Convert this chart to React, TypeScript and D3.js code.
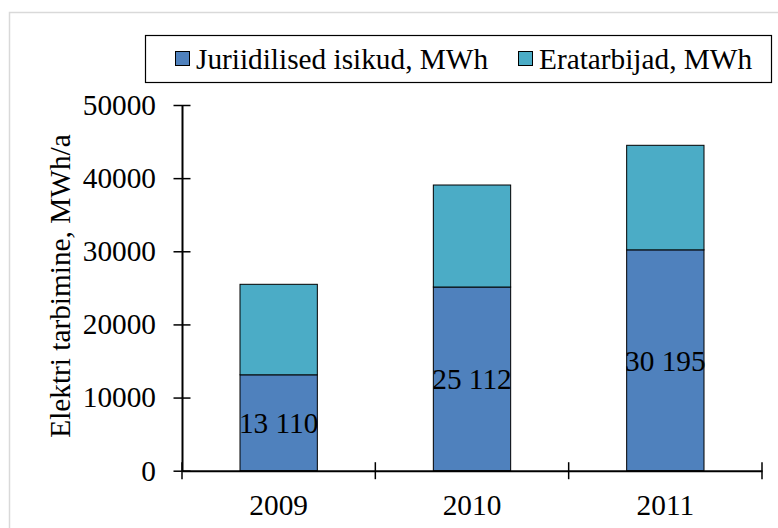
import React, { useRef, useEffect } from 'react';
import * as d3 from 'd3';

// andmed graafikult loetud
const years = ['2009', '2010', '2011'];
const juriidilised = [13110, 25112, 30195];
const eratarbijad = [12375, 13948, 14295];
const yTicks = [0, 10000, 20000, 30000, 40000, 50000];
const seriesNames = ['Juriidilised isikud, MWh', 'Eratarbijad, MWh'];
const seriesColors = ['#4f81bd', '#4bacc6'];
const valueLabels = ['13 110', '25 112', '30 195'];

const WIDTH = 778;
const HEIGHT = 528;
const FONT = 'Liberation Serif, Times New Roman, DejaVu Serif, serif';
const FONT_SIZE = 29.3;

const App: React.FC = () => {
  const svgRef = useRef<SVGSVGElement | null>(null);

  useEffect(() => {
    const svg = d3.select(svgRef.current);
    svg.selectAll('*').remove();

    // välimine raam
    svg.append('rect')
      .attr('x', 9.5).attr('y', 12.5)
      .attr('width', WIDTH + 20).attr('height', HEIGHT + 20)
      .attr('fill', '#fff').attr('stroke', '#d9d9d9').attr('stroke-width', 1.5);

    const x = d3.scaleBand().domain(years).range([182, 762]).paddingInner(0.6).paddingOuter(0.3);
    const xb = d3.scaleBand().domain(years).range([182, 762]);
    const y = d3.scaleLinear().domain([0, 50000]).range([470.7, 105]);

    const stacked = years.map((yr, i) => ({
      yr,
      segs: [
        { y0: 0, y1: juriidilised[i], c: seriesColors[0] },
        { y0: juriidilised[i], y1: juriidilised[i] + eratarbijad[i], c: seriesColors[1] },
      ],
    }));

    // tulbad
    const bars = svg.append('g');
    stacked.forEach((d) => {
      d.segs.forEach((s) => {
        bars.append('rect')
          .attr('x', x(d.yr)!)
          .attr('y', y(s.y1))
          .attr('width', x.bandwidth())
          .attr('height', y(s.y0) - y(s.y1))
          .attr('fill', s.c)
          .attr('stroke', '#000')
          .attr('stroke-width', 1);
      });
    });

    // väärtuste sildid
    svg.append('g').selectAll('text')
      .data(years)
      .enter()
      .append('text')
      .attr('x', (d) => x(d)! + x.bandwidth() / 2)
      .attr('y', (_, i) => y(juriidilised[i] / 2))
      .attr('dy', '0.35em')
      .attr('text-anchor', 'middle')
      .text((_, i) => valueLabels[i]);

    // Y telg
    const yAxis = svg.append('g').attr('transform', 'translate(182,0)')
      .call(d3.axisLeft(y).tickValues(yTicks).tickSize(0).tickPadding(26).tickFormat((d) => String(d)));
    yAxis.select('.domain').attr('stroke', '#000').attr('stroke-width', 2);
    yAxis.selectAll('text').attr('fill', '#000');
    yAxis.selectAll('.tick').append('line')
      .attr('x1', -8.5).attr('x2', 8.5).attr('stroke', '#000').attr('stroke-width', 1.5);

    // X telg
    const xAxis = svg.append('g').attr('transform', `translate(0,${y(0)})`)
      .call(d3.axisBottom(xb).tickSize(0).tickPadding(23.5));
    xAxis.select('.domain').attr('stroke', '#000').attr('stroke-width', 2);
    xAxis.selectAll('text').attr('fill', '#000');
    const bounds = [...years.map((yr) => xb(yr)!), xb.range()[1]];
    xAxis.append('g').selectAll('line')
      .data(bounds)
      .enter()
      .append('line')
      .attr('x1', (d) => d).attr('x2', (d) => d)
      .attr('y1', -8.5).attr('y2', 8.5)
      .attr('stroke', '#000').attr('stroke-width', 1.5);

    // Y telje pealkiri
    svg.append('text')
      .attr('transform', 'translate(70,286) rotate(-90)')
      .attr('text-anchor', 'middle')
      .text('Elektri tarbimine, MWh/a');

    // legend
    const legend = svg.append('g');
    legend.append('rect')
      .attr('x', 145.5).attr('y', 35.5).attr('width', 626).attr('height', 47)
      .attr('fill', '#fff').attr('stroke', '#000').attr('stroke-width', 1.2);
    const legendX = [175, 518];
    seriesNames.forEach((name, i) => {
      legend.append('rect')
        .attr('x', legendX[i] + 0.5).attr('y', 51.5).attr('width', 14).attr('height', 14)
        .attr('fill', seriesColors[i]).attr('stroke', '#000').attr('stroke-width', 1);
      legend.append('text')
        .attr('x', legendX[i] + 21).attr('y', 68.5)
        .text(name);
    });

    // kõik tekstid ühe fondiga (d3.axis paneb ise font-family atribuudi, seega style)
    svg.selectAll('text')
      .style('font-family', FONT)
      .style('font-size', `${FONT_SIZE}px`);
  }, []);

  return (
    <svg
      ref={svgRef}
      width={WIDTH}
      height={HEIGHT}
      style={{ position: 'absolute', left: 0, top: 0, background: '#fff' }}
    />
  );
};

export default App;
